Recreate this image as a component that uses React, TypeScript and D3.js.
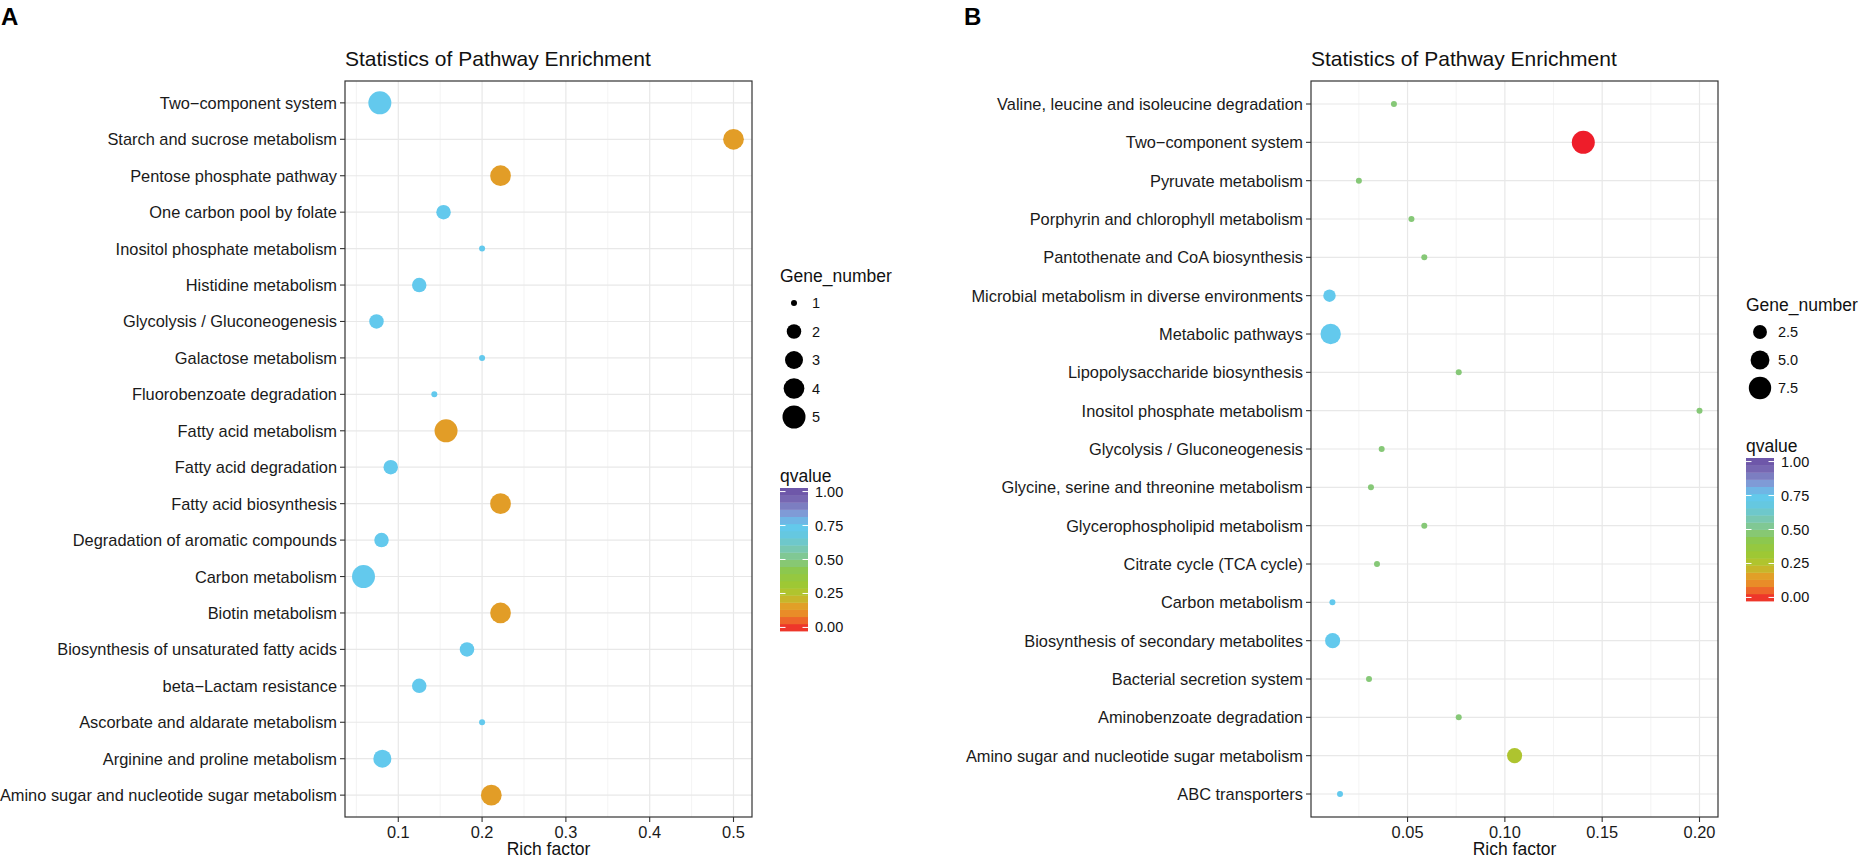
import React from "react";
import * as d3 from "d3";

// ---- data ----
const pathwaysA = [
  "Two\u2212component system",
  "Starch and sucrose metabolism",
  "Pentose phosphate pathway",
  "One carbon pool by folate",
  "Inositol phosphate metabolism",
  "Histidine metabolism",
  "Glycolysis / Gluconeogenesis",
  "Galactose metabolism",
  "Fluorobenzoate degradation",
  "Fatty acid metabolism",
  "Fatty acid degradation",
  "Fatty acid biosynthesis",
  "Degradation of aromatic compounds",
  "Carbon metabolism",
  "Biotin metabolism",
  "Biosynthesis of unsaturated fatty acids",
  "beta\u2212Lactam resistance",
  "Ascorbate and aldarate metabolism",
  "Arginine and proline metabolism",
  "Amino sugar and nucleotide sugar metabolism",
];
const richA = [0.078, 0.5, 0.222, 0.154, 0.2, 0.125, 0.074, 0.2, 0.143, 0.157, 0.091, 0.222, 0.08, 0.0585, 0.222, 0.182, 0.125, 0.2, 0.081, 0.211];
const genesA = [5, 4, 4, 2, 1, 2, 2, 1, 1, 5, 2, 4, 2, 5, 4, 2, 2, 1, 3, 4];
const qvalA = [0.73, 0.17, 0.17, 0.73, 0.73, 0.73, 0.73, 0.73, 0.73, 0.17, 0.73, 0.17, 0.73, 0.73, 0.17, 0.73, 0.73, 0.73, 0.73, 0.17];

const pathwaysB = [
  "Valine, leucine and isoleucine degradation",
  "Two\u2212component system",
  "Pyruvate metabolism",
  "Porphyrin and chlorophyll metabolism",
  "Pantothenate and CoA biosynthesis",
  "Microbial metabolism in diverse environments",
  "Metabolic pathways",
  "Lipopolysaccharide biosynthesis",
  "Inositol phosphate metabolism",
  "Glycolysis / Gluconeogenesis",
  "Glycine, serine and threonine metabolism",
  "Glycerophospholipid metabolism",
  "Citrate cycle (TCA cycle)",
  "Carbon metabolism",
  "Biosynthesis of secondary metabolites",
  "Bacterial secretion system",
  "Aminobenzoate degradation",
  "Amino sugar and nucleotide sugar metabolism",
  "ABC transporters",
];
const richB = [0.043, 0.1403, 0.025, 0.052, 0.0586, 0.0099, 0.0105, 0.0763, 0.2, 0.0367, 0.0312, 0.0586, 0.0343, 0.0114, 0.0115, 0.0302, 0.0763, 0.105, 0.0153];
const genesB = [1, 8, 1, 1, 1, 2, 6, 1, 1, 1, 1, 1, 1, 1, 3, 1, 1, 3, 1];
const qvalB = [0.48, 0.0, 0.48, 0.48, 0.48, 0.73, 0.73, 0.48, 0.48, 0.48, 0.48, 0.48, 0.48, 0.73, 0.73, 0.48, 0.48, 0.28, 0.73];

const xTicksA = [0.1, 0.2, 0.3, 0.4, 0.5];
const xTicksB = [0.05, 0.1, 0.15, 0.2];
const sizeBreaksA = [1, 2, 3, 4, 5];
const sizeBreaksB = [2.5, 5.0, 7.5];
const qBreaks = [0, 0.25, 0.5, 0.75, 1];

// colour ramp of the qvalue bar
const qStops = [0, 0.06, 0.12, 0.18, 0.25, 0.33, 0.42, 0.5, 0.58, 0.66, 0.74, 0.82, 0.9, 1];
const qColors = ["#EE1D2A", "#EF5A2A", "#EA8A28", "#E0A127", "#B9C22B", "#9CC835", "#8DC84A", "#84C886", "#78C8B4", "#66C8DC", "#62C9EF", "#7F9ED8", "#7B70B6", "#6A4EA4"];
const qColor = d3.scaleLinear<string>().domain(qStops).range(qColors).interpolate(d3.interpolateRgb);

const FONT = "'Liberation Sans', Arial, Helvetica, sans-serif";

const sizeScale = d3.scaleLinear().domain([0, 1]).range([1, 6]);
const radius = (v: number, lo: number, hi: number) =>
  (2.6 + 3.4 * sizeScale(Math.sqrt((v - lo) / (hi - lo)))) / 2;

function Panel(props: any) {
  const { letter, letterX, rows, rich, genes, qval, plot, xTicks, tickFmt, sizeLimits, sizeBreaks, sizeFmt, leg } = props;
  const lo = d3.min(rich) as number;
  const hi = d3.max(rich) as number;
  const pad = (hi - lo) * 0.05;
  const x = d3.scaleLinear().domain([lo - pad, hi + pad]).range([plot.x0, plot.x1]);
  const y = d3.scalePoint<string>().domain(rows).range([plot.y0, plot.y1]).padding(0.6);

  const step = xTicks[1] - xTicks[0];
  const minor = d3.range(xTicks[0] - step / 2, xTicks[xTicks.length - 1] + step, step)
    .filter((m) => m >= x.domain()[0] && m <= x.domain()[1]);

  const [sLo, sHi] = sizeLimits;
  const nbin = 20;
  const barH = leg.barH;
  const bin = barH / nbin;
  const tickY = (q: number) => leg.barTop + barH - bin / 2 - q * (barH - bin);

  return (
    <g>
      <text x={letterX} y={25} fontFamily={FONT} fontWeight="bold" fontSize={24} fill="#000">{letter}</text>
      <text x={plot.x0} y={65.5} fontFamily={FONT} fontSize={21} fill="#111">Statistics of Pathway Enrichment</text>

      {/* grid */}
      {minor.map((m) => (
        <line key={"mn" + m} x1={x(m)} x2={x(m)} y1={plot.y0} y2={plot.y1} stroke="#F0F0F0" strokeWidth={0.8} />
      ))}
      {xTicks.map((t) => (
        <line key={"mj" + t} x1={x(t)} x2={x(t)} y1={plot.y0} y2={plot.y1} stroke="#E8E8E8" strokeWidth={1.2} />
      ))}
      {rows.map((r) => (
        <line key={"h" + r} x1={plot.x0} x2={plot.x1} y1={y(r)} y2={y(r)} stroke="#E8E8E8" strokeWidth={1.2} />
      ))}

      {/* points */}
      {rows.map((r, i) => (
        <circle key={"c" + r} cx={x(rich[i])} cy={y(r)} r={radius(genes[i], sLo, sHi)} fill={qColor(qval[i])} />
      ))}

      <rect x={plot.x0} y={plot.y0} width={plot.x1 - plot.x0} height={plot.y1 - plot.y0} fill="none" stroke="#333" strokeWidth={1.2} />

      {/* y axis */}
      {rows.map((r) => (
        <g key={"yl" + r}>
          <line x1={plot.x0 - 5} x2={plot.x0} y1={y(r)} y2={y(r)} stroke="#333" strokeWidth={1.1} />
          <text x={plot.x0 - 8} y={y(r)} textAnchor="end" dominantBaseline="central" fontFamily={FONT} fontSize={16.4} fill="#1a1a1a">{r}</text>
        </g>
      ))}

      {/* x axis */}
      {xTicks.map((t) => (
        <g key={"xt" + t}>
          <line x1={x(t)} x2={x(t)} y1={plot.y1} y2={plot.y1 + 5} stroke="#333" strokeWidth={1.1} />
          <text x={x(t)} y={837.5} textAnchor="middle" fontFamily={FONT} fontSize={16.4} fill="#1a1a1a">{tickFmt(t)}</text>
        </g>
      ))}
      <text x={(plot.x0 + plot.x1) / 2} y={854.5} textAnchor="middle" fontFamily={FONT} fontSize={17.5} fill="#111">Rich factor</text>

      {/* size legend */}
      <text x={leg.x} y={leg.geneTitleY} fontFamily={FONT} fontSize={17.5} fill="#111">Gene_number</text>
      {sizeBreaks.map((s, i) => (
        <g key={"sz" + s}>
          <circle cx={leg.x + 14} cy={leg.key0 + i * leg.keyStep} r={radius(s, sLo, sHi)} fill="#000" />
          <text x={leg.x + 32} y={leg.key0 + i * leg.keyStep} dominantBaseline="central" fontFamily={FONT} fontSize={14.5} fill="#111">{sizeFmt(s)}</text>
        </g>
      ))}

      {/* colour bar */}
      <text x={leg.x} y={leg.barTop - 6} fontFamily={FONT} fontSize={17.5} fill="#111">qvalue</text>
      {d3.range(nbin).map((k) => (
        <rect key={"b" + k} x={leg.x} y={leg.barTop + barH - (k + 1) * bin} width={28} height={bin + 0.4}
          fill={qColor((k + 0.5) / nbin)} />
      ))}
      {qBreaks.map((q) => (
        <g key={"qb" + q}>
          <line x1={leg.x} x2={leg.x + 5.5} y1={tickY(q)} y2={tickY(q)} stroke="#fff" strokeWidth={1} />
          <line x1={leg.x + 22.5} x2={leg.x + 28} y1={tickY(q)} y2={tickY(q)} stroke="#fff" strokeWidth={1} />
          <text x={leg.x + 35} y={tickY(q)} dominantBaseline="central" fontFamily={FONT} fontSize={14.5} fill="#111">{d3.format(".2f")(q)}</text>
        </g>
      ))}
    </g>
  );
}

export default function App() {
  return (
    <svg width={1861} height={859} style={{ position: "absolute", left: 0, top: 0, background: "#fff" }}>
      <rect width={1861} height={859} fill="#fff" />
      <Panel
        letter="A"
        letterX={1}
        rows={pathwaysA}
        rich={richA}
        genes={genesA}
        qval={qvalA}
        plot={{ x0: 345, x1: 752, y0: 81, y1: 817 }}
        xTicks={xTicksA}
        tickFmt={d3.format(".1f")}
        sizeLimits={[1, 5]}
        sizeBreaks={sizeBreaksA}
        sizeFmt={d3.format("d")}
        leg={{ x: 780, geneTitleY: 282, key0: 303, keyStep: 28.5, barTop: 488, barH: 143 }}
      />
      <Panel
        letter="B"
        letterX={964}
        rows={pathwaysB}
        rich={richB}
        genes={genesB}
        qval={qvalB}
        plot={{ x0: 1311, x1: 1718, y0: 81, y1: 817 }}
        xTicks={xTicksB}
        tickFmt={d3.format(".2f")}
        sizeLimits={[1, 8]}
        sizeBreaks={sizeBreaksB}
        sizeFmt={d3.format(".1f")}
        leg={{ x: 1746, geneTitleY: 311, key0: 332, keyStep: 28, barTop: 458, barH: 143 }}
      />
    </svg>
  );
}
